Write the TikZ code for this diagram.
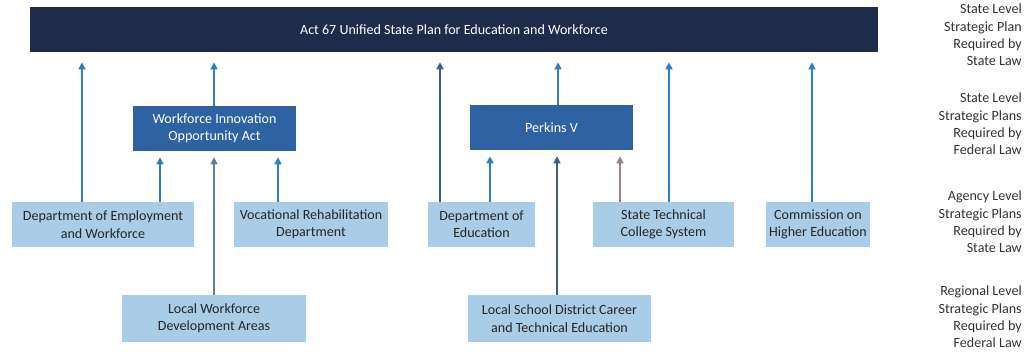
\documentclass[tikz,border=0pt]{standalone}
\usepackage{fontspec}
\setmainfont{Carlito}
\usepackage{xcolor}
\usetikzlibrary{arrows.meta}

\definecolor{navy}{HTML}{1F2B4B}
\definecolor{midblue}{HTML}{2F62A3}
\definecolor{paleblue}{HTML}{A9CDE7}
\definecolor{linkblue}{HTML}{2F80C2}
\definecolor{darklink}{HTML}{3A5F88}
\definecolor{greylink}{HTML}{5D7FA0}
\definecolor{mauve}{HTML}{9A7F8F}

\begin{document}
\begin{tikzpicture}[x=0.025cm, y=-0.025cm,
		font=\fontsize{10}{12.4}\selectfont,
		plan/.style={fill=navy, text=white, minimum height=1.125cm, inner sep=0pt},
		federal/.style={fill=midblue, text=white, align=center, minimum height=1.125cm, inner sep=0pt},
		agency/.style={fill=paleblue, text=black!85, align=center, minimum height=1.125cm, inner sep=0pt},
		level/.style={anchor=east, align=right, text=black!80, inner sep=0pt},
		up/.style={draw=linkblue, line width=1pt, -{Triangle[width=5pt,length=5pt]}, shorten >=0.25cm},
		upmid/.style={up, shorten >=0.15cm}]
		\useasboundingbox (0,0) rectangle (1026,352);
		
		% top level plan
		\node (plan) at (454,29.5) [plan, minimum width=21.2cm] {Act 67 Unified State Plan for Education and Workforce};
		
		% federal plans
		\node (wioa) at (214.5,128.5) [federal, minimum width=4.075cm] {Workforce Innovation\\Opportunity Act};
		\node (perkins) at (551.5,127.5) [federal, minimum width=4.075cm] {Perkins V};
		
		% agencies
		\node (emp) at (103,224.5) [agency, minimum width=4.55cm] {Department of Employment\\and Workforce};
		\node (voc) at (311,224.5) [agency, minimum width=3.85cm] {Vocational Rehabilitation\\Department};
		\node (doe) at (481.5,224.5) [agency, minimum width=2.675cm] {Department of\\Education};
		\node (tcs) at (663.5,224.5) [agency, minimum width=3.525cm] {State Technical\\College System};
		\node (che) at (818,224.5) [agency, minimum width=2.6cm] {Commission on\\Higher Education};
		
		% regional
		\node (lwda) at (214,318.5) [agency, minimum height=1.175cm, minimum width=4.6cm] {Local Workforce\\Development Areas};
		\node (lsd) at (559.5,318.5) [agency, minimum height=1.175cm, minimum width=4.575cm] {Local School District Career\\and Technical Education};
		
		% links to the state plan
		\draw[up] (emp.north -| 82,0) -- (plan.south -| 82,0);
		\draw[up] (wioa.north -| 214,0) -- (plan.south -| 214,0);
		\draw[up, draw=darklink] (doe.north -| 440,0) -- (plan.south -| 440,0);
		\draw[up] (perkins.north -| 558,0) -- (plan.south -| 558,0);
		\draw[up] (tcs.north -| 669,0) -- (plan.south -| 669,0);
		\draw[up] (che.north -| 812,0) -- (plan.south -| 812,0);
		
		% links to the federal plans
		\draw[upmid] (emp.north -| 160,0) -- (wioa.south -| 160,0);
		\draw[upmid] (voc.north -| 278,0) -- (wioa.south -| 278,0);
		\draw[upmid, draw=greylink] (lwda.north -| 214,0) -- (wioa.south -| 214,0);
		\draw[upmid] (doe.north -| 490,0) -- (perkins.south -| 490,0);
		\draw[upmid, draw=darklink] (lsd.north -| 557,0) -- (perkins.south -| 557,0);
		\draw[upmid, draw=mauve] (tcs.north -| 620,0) -- (perkins.south -| 620,0);
		
		% level captions
		\node (lvl1) at (1022,35) [level] {State Level\\Strategic Plan\\Required by\\State Law};
		\node (lvl2) at (1022,124) [level] {State Level\\Strategic Plans\\Required by\\Federal Law};
		\node (lvl3) at (1022,222) [level] {Agency Level\\Strategic Plans\\Required by\\State Law};
		\node (lvl4) at (1022,317) [level] {Regional Level\\Strategic Plans\\Required by\\Federal Law};
		
	\end{tikzpicture}
\end{document}
